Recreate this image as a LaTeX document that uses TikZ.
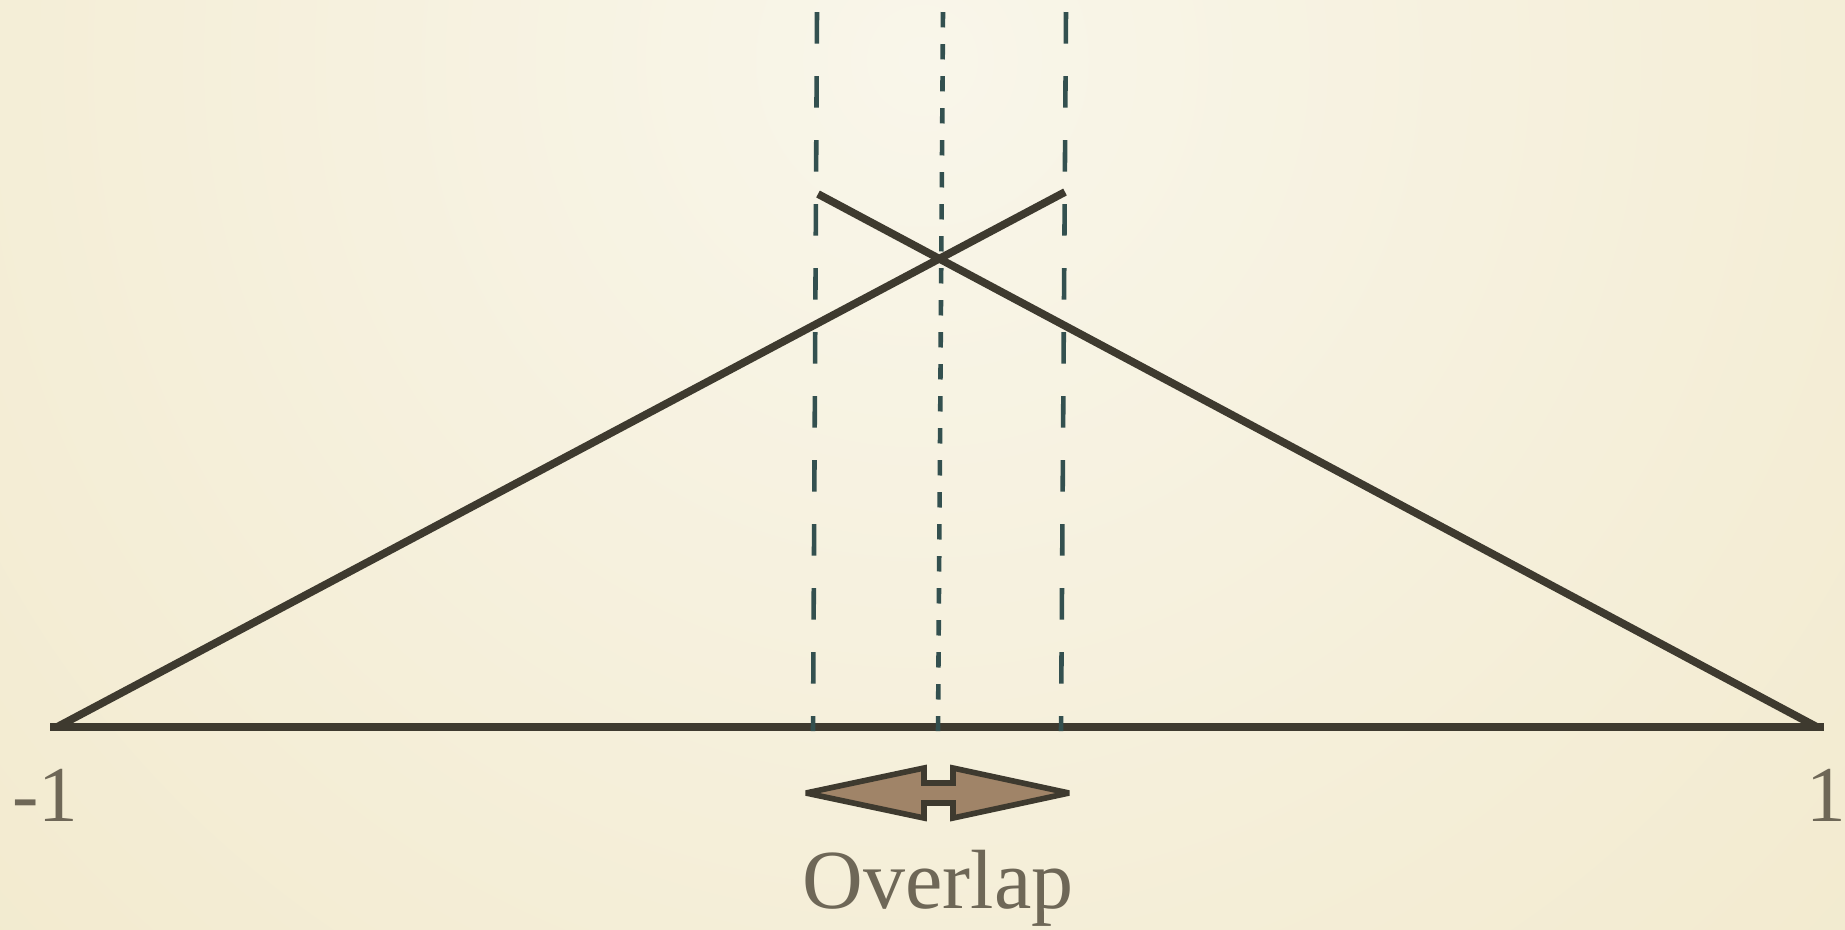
\documentclass[tikz,border=0pt]{standalone}
\usepackage{fontspec}
\setmainfont{Liberation Serif}
\definecolor{bgin}{HTML}{F9F6EA}
\definecolor{bgout}{HTML}{EEE3BE}
\definecolor{linec}{HTML}{3E3A2F}
\definecolor{dashc}{HTML}{33504F}
\definecolor{arrowfill}{HTML}{A08468}
\definecolor{textc}{HTML}{6E6757}
\tikzset{
  mainline/.style={draw=linec, line width=2.2pt},
  baseline/.style={draw=linec, line width=2.5pt},
  longdash/.style={draw=dashc, line width=1.3pt, dash pattern=on 9pt off 9.2pt},
  shortdash/.style={draw=dashc, line width=1.3pt, dash pattern=on 4.4pt off 4.7pt},
  lab/.style={text=textc, inner sep=0pt, anchor=base, font=\fontsize{23.9}{28}\selectfont},
  numlab/.style={text=textc, inner sep=0pt, anchor=base, font=\fontsize{22.5}{27}\selectfont},
  overlaparrow/.style={draw=linec, fill=arrowfill, line width=1.6pt, line join=miter, miter limit=3}
}
\begin{document}
\begin{tikzpicture}[x=0.01cm, y=-0.01cm]
\useasboundingbox (0,0) rectangle (1845,929);
\begin{scope}
\clip (0,0) rectangle (1845,929);
\shade[inner color=bgin, outer color=bgout] (922,60) circle (2100);
\end{scope}
% coordinates
\coordinate (L) at (50,727);
\coordinate (R) at (1824,727);
\coordinate (P1) at (1065,192);
\coordinate (P2) at (818,194);
\coordinate (d1t) at (817,12);
\coordinate (d1b) at (813,731);
\coordinate (d2t) at (943,12);
\coordinate (d2b) at (938,731);
\coordinate (d3t) at (1066,12);
\coordinate (d3b) at (1061,731);
% baseline
\draw[baseline] (L) -- (R);
% dashed verticals
\draw[longdash] (d1t) -- (d1b);
\draw[shortdash] (d2t) -- (d2b);
\draw[longdash] (d3t) -- (d3b);
% triangle sides
\draw[mainline] ([xshift=2]L) -- (P1);
\draw[mainline] (P2) -- ([xshift=-2]R);
% overlap arrow
\draw[overlaparrow] (806,793) -- (924,768) -- (924,783) -- (953,783) -- (953,768) -- (1069,793)
  -- (953,818) -- (953,803) -- (924,803) -- (924,818) -- cycle;
% labels
\node[numlab] (lmin) at (45,821) {-1};
\node[numlab] (lmax) at (1826,821) {1};
\node[lab] (ov) at (938,908) {Overlap};
\end{tikzpicture}
\end{document}
